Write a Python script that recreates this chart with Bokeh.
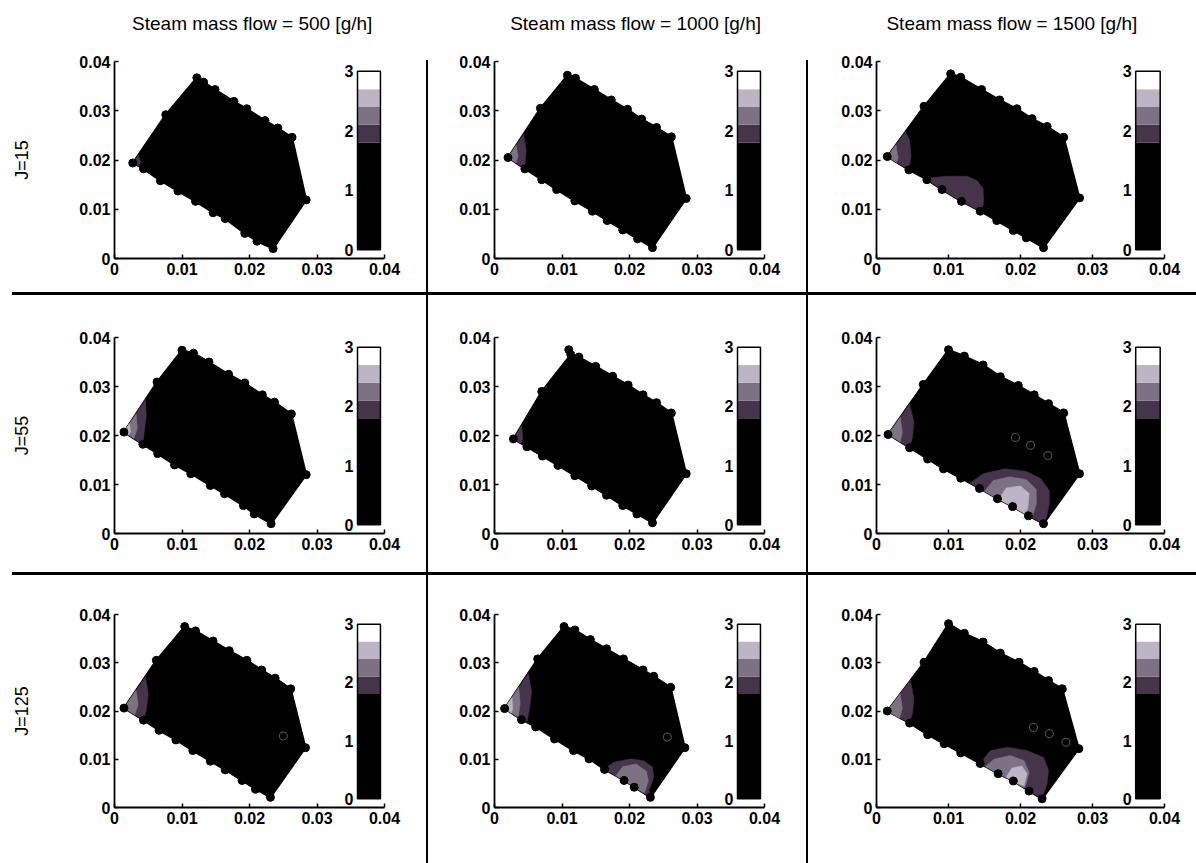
from bokeh.plotting import figure
from bokeh.models import Range1d, FixedTicker, NumeralTickFormatter, Spacer, ColumnDataSource
from bokeh.layouts import row, column
from bokeh.embed import file_html
from bokeh.resources import INLINE
from bokeh.core.properties import value

# ---------------- data ----------------
COL_TITLES = ["Steam mass flow = 500 [g/h]", "Steam mass flow = 1000 [g/h]", "Steam mass flow = 1500 [g/h]"]
ROW_LABELS = ["J=15", "J=55", "J=125"]
AXIS_TICKS = [0, 0.01, 0.02, 0.03, 0.04]
CB_LEVELS = [0, 1.8, 2.1, 2.4, 2.7, 3.0]
CB_COLORS = ["#000000", "#46344a", "#7d7284", "#bdb5c6", "#ffffff"]
CB_TICKS = [0, 1, 2, 3]

# boundary nodes (ordered around the domain): J=15
P11_X = [.0027, .0076, .0122, .0132, .0149, .0177, .0196, .0223, .0242, .0263, .0284, .0235, .0211, .0193, .0164, .0146, .0120, .0094, .0068, .0043]
P11_Y = [.0194, .0292, .0367, .0358, .0343, .0319, .0304, .0280, .0265, .0246, .0119, .0020, .0035, .0051, .0081, .0093, .0116, .0137, .0158, .0182]
P12_X = [.0020, .0068, .0108, .0120, .0148, .0173, .0197, .0218, .0240, .0262, .0284, .0234, .0212, .0190, .0167, .0145, .0119, .0092, .0070, .0045]
P12_Y = [.0205, .0305, .0372, .0366, .0343, .0322, .0303, .0283, .0266, .0247, .0122, .0022, .0040, .0058, .0077, .0096, .0117, .0140, .0160, .0182]
P13_X = [.0015, .0066, .0103, .0117, .0146, .0171, .0195, .0216, .0237, .0260, .0282, .0232, .0208, .0190, .0167, .0144, .0118, .0091, .0070, .0045]
P13_Y = [.0207, .0309, .0375, .0368, .0343, .0322, .0304, .0284, .0268, .0246, .0123, .0022, .0042, .0057, .0077, .0096, .0116, .0140, .0160, .0180]
# J=55
P21_X = [.0014, .0063, .0100, .0117, .0140, .0169, .0193, .0219, .0237, .0262, .0284, .0232, .0207, .0191, .0163, .0142, .0113, .0089, .0064, .0042]
P21_Y = [.0207, .0309, .0374, .0368, .0350, .0325, .0307, .0283, .0268, .0244, .0120, .0020, .0040, .0057, .0081, .0098, .0122, .0140, .0163, .0182]
P22_X = [.0028, .0070, .0113, .0125, .0150, .0175, .0198, .0220, .0240, .0262, .0284, .0234, .0211, .0190, .0166, .0144, .0119, .0094, .0071, .0048]
P22_Y = [.0193, .0290, .0365, .0360, .0341, .0321, .0303, .0283, .0267, .0246, .0122, .0022, .0040, .0057, .0078, .0097, .0118, .0139, .0158, .0177]
P23_X = [.0016, .0065, .0100, .0122, .0148, .0172, .0197, .0219, .0239, .0260, .0282, .0232, .0211, .0189, .0168, .0143, .0117, .0093, .0071, .0046]
P23_Y = [.0202, .0304, .0375, .0362, .0344, .0320, .0302, .0283, .0265, .0246, .0122, .0020, .0036, .0055, .0071, .0092, .0113, .0132, .0152, .0175]
# J=125
P31_X = [.0014, .0062, .0104, .0120, .0146, .0170, .0196, .0218, .0238, .0261, .0283, .0231, .0209, .0189, .0164, .0142, .0116, .0091, .0066, .0043]
P31_Y = [.0206, .0305, .0375, .0366, .0345, .0325, .0305, .0285, .0268, .0246, .0124, .0021, .0038, .0056, .0078, .0096, .0118, .0140, .0160, .0181]
P32_X = [.0015, .0064, .0103, .0119, .0142, .0166, .0191, .0220, .0236, .0261, .0282, .0231, .0207, .0192, .0163, .0140, .0117, .0089, .0061, .0040]
P32_Y = [.0205, .0308, .0375, .0368, .0348, .0329, .0308, .0285, .0272, .0249, .0124, .0021, .0042, .0056, .0079, .0101, .0118, .0142, .0167, .0182]
P33_X = [.0015, .0066, .0100, .0122, .0148, .0172, .0198, .0219, .0239, .0258, .0281, .0230, .0212, .0190, .0169, .0144, .0117, .0094, .0071, .0046]
P33_Y = [.0200, .0301, .0381, .0361, .0343, .0320, .0301, .0282, .0263, .0246, .0122, .0018, .0034, .0055, .0070, .0091, .0113, .0132, .0151, .0175]

# contour bands above the lowest level: (band index into CB_COLORS, outline)
P11_BANDS = [(1, [(.0027, .0194), (.0035, .0209), (.0039, .0197), (.0036, .0187)])]
P12_BANDS = [(1, [(.0020, .0205), (.0043, .0253), (.0047, .0222), (.0045, .0182)]),
             (2, [(.0020, .0205), (.0032, .0230), (.0035, .0208), (.0032, .0194)])]
P13_BANDS = [(1, [(.0015, .0207), (.0040, .0257), (.0046, .0240), (.0048, .0209), (.0045, .0180)]),
             (2, [(.0015, .0207), (.0027, .0231), (.0030, .0205), (.0028, .0195)]),
             (1, [(.0066, .0163), (.0098, .0167), (.0126, .0167), (.0140, .0158), (.0148, .0142), (.0149, .0118),
                  (.0147, .0099), (.0144, .0096), (.0118, .0116), (.0091, .0140), (.0070, .0160)])]
P21_BANDS = [(1, [(.0014, .0207), (.0046, .0274), (.0047, .0240), (.0044, .0205), (.0042, .0182)]),
             (2, [(.0014, .0207), (.0032, .0244), (.0034, .0215), (.0029, .0194)]),
             (3, [(.0014, .0207), (.0022, .0224), (.0024, .0208), (.0021, .0201)])]
P22_BANDS = [(1, [(.0028, .0193), (.0040, .0221), (.0042, .0195), (.0040, .0183)])]
P23_BANDS = [(1, [(.0016, .0202), (.0046, .0264), (.0052, .0228), (.0050, .0196), (.0046, .0175)]),
             (2, [(.0016, .0202), (.0033, .0237), (.0036, .0207), (.0033, .0187)]),
             (1, [(.0130, .0103), (.0148, .0122), (.0178, .0132), (.0208, .0127), (.0228, .0112), (.0240, .0088),
                  (.0240, .0060), (.0236, .0032), (.0232, .0020), (.0211, .0036), (.0189, .0055), (.0168, .0071), (.0143, .0092)]),
             (2, [(.0150, .0086), (.0162, .0108), (.0185, .0116), (.0208, .0110), (.0222, .0090), (.0222, .0060),
                  (.0216, .0032), (.0211, .0036), (.0189, .0055), (.0168, .0071)]),
             (3, [(.0170, .0070), (.0180, .0093), (.0200, .0097), (.0212, .0082), (.0210, .0050), (.0205, .0041), (.0189, .0055)])]
P31_BANDS = [(1, [(.0014, .0206), (.0046, .0271), (.0050, .0235), (.0047, .0200), (.0043, .0181)]),
             (2, [(.0014, .0206), (.0032, .0243), (.0035, .0213), (.0030, .0192)])]
P32_BANDS = [(1, [(.0015, .0205), (.0050, .0278), (.0055, .0240), (.0052, .0205), (.0048, .0176)]),
             (2, [(.0015, .0205), (.0036, .0249), (.0038, .0215), (.0035, .0187)]),
             (3, [(.0015, .0205), (.0026, .0228), (.0027, .0205), (.0025, .0196)]),
             (1, [(.0162, .0080), (.0177, .0094), (.0202, .0101), (.0221, .0097), (.0234, .0084), (.0236, .0063),
                  (.0229, .0035), (.0231, .0021), (.0207, .0042), (.0192, .0056)]),
             (2, [(.0180, .0066), (.0190, .0085), (.0210, .0090), (.0225, .0075), (.0228, .0055), (.0222, .0030),
                  (.0207, .0042), (.0192, .0056)])]
P33_BANDS = [(1, [(.0015, .0200), (.0047, .0264), (.0052, .0225), (.0050, .0195), (.0046, .0175)]),
             (2, [(.0015, .0200), (.0033, .0236), (.0036, .0205), (.0032, .0185)]),
             (1, [(.0144, .0091), (.0158, .0118), (.0182, .0125), (.0209, .0118), (.0232, .0104), (.0239, .0077),
                  (.0237, .0049), (.0232, .0028), (.0230, .0018), (.0212, .0034), (.0190, .0055), (.0169, .0070)]),
             (2, [(.0151, .0085), (.0163, .0100), (.0186, .0108), (.0205, .0097), (.0212, .0073), (.0208, .0049),
                  (.0205, .0040), (.0190, .0055), (.0169, .0070)]),
             (3, [(.0180, .0063), (.0188, .0082), (.0202, .0086), (.0209, .0070), (.0205, .0045), (.0196, .0049)])]

# interior nodes drawn as hollow rings, and stray nodes
P23_RINGS = [(.0193, .0196), (.0214, .0180), (.0238, .0159)]
P31_RINGS = [(.0250, .0148)]
P32_RINGS = [(.0256, .0146)]
P33_RINGS = [(.0218, .0166), (.0240, .0153), (.0263, .0135)]
P22_EXTRA = [(.0110, .0375)]

PANEL_X = [[P11_X, P12_X, P13_X], [P21_X, P22_X, P23_X], [P31_X, P32_X, P33_X]]
PANEL_Y = [[P11_Y, P12_Y, P13_Y], [P21_Y, P22_Y, P23_Y], [P31_Y, P32_Y, P33_Y]]
PANEL_BANDS = [[P11_BANDS, P12_BANDS, P13_BANDS], [P21_BANDS, P22_BANDS, P23_BANDS], [P31_BANDS, P32_BANDS, P33_BANDS]]
PANEL_RINGS = [[[], [], []], [[], [], P23_RINGS], [P31_RINGS, P32_RINGS, P33_RINGS]]
PANEL_EXTRA = [[[], [], []], [[], P22_EXTRA, []], [[], [], []]]

# ---------------- layout geometry ----------------
HEADER_H = 45
COL_W = [426, 378, 388]
COL_LEFT = [114, 66, 68]
FRAME_W = [270, 270, 288]
ROW_H = [292 - HEADER_H, 277, 288]
ROW_TOP = [61 - HEADER_H, 42, 39]
FRAME_H = [197, 196, 193]
TITLE_X = [0.0204, 0.0209, 0.0188]   # title centre, in each column's x units
TITLE_CY = 22                        # title centre, pixels above the header's bottom
CB_X0, CB_X1 = 0.0360, 0.0394
CB_Y0, CB_Y1 = 0.0018, 0.0380
FONT = "Liberation Sans"


def make_header(c):
    h = figure(width=COL_W[c], height=HEADER_H, output_backend="svg", toolbar_location=None,
               x_range=Range1d(0, 0.04), y_range=Range1d(0, HEADER_H),
               x_axis_location=None, y_axis_location=None,
               min_border_left=COL_LEFT[c], min_border_right=COL_W[c] - COL_LEFT[c] - FRAME_W[c],
               min_border_top=0, min_border_bottom=0,
               outline_line_color=None, background_fill_color="white", border_fill_color="white")
    h.xgrid.visible = False
    h.ygrid.visible = False
    h.text(x=[TITLE_X[c]], y=[TITLE_CY], text=[COL_TITLES[c]], text_align="center", text_baseline="middle",
           text_font=value(FONT), text_font_size="19px", text_color="black")
    return h


def make_panel(r, c):
    p = figure(width=COL_W[c], height=ROW_H[r], output_backend="svg", toolbar_location=None,
               x_range=Range1d(0, 0.04), y_range=Range1d(0, 0.04),
               min_border_left=COL_LEFT[c], min_border_right=COL_W[c] - COL_LEFT[c] - FRAME_W[c],
               min_border_top=ROW_TOP[r], min_border_bottom=ROW_H[r] - ROW_TOP[r] - FRAME_H[r],
               outline_line_color=None, background_fill_color="white", border_fill_color="white")
    p.xgrid.visible = False
    p.ygrid.visible = False
    for ax in (p.xaxis[0], p.yaxis[0]):
        ax.ticker = FixedTicker(ticks=AXIS_TICKS)
        ax.formatter = NumeralTickFormatter(format="0.[00]")
        ax.minor_tick_line_color = None
        ax.major_tick_in = 4
        ax.major_tick_out = 0
        ax.axis_line_width = 1.8
        ax.axis_line_color = "black"
        ax.major_tick_line_color = "black"
        ax.major_tick_line_width = 1.5
        ax.major_label_text_font = FONT
        ax.major_label_text_font_style = "bold"
        ax.major_label_text_font_size = "16px"
        ax.major_label_text_color = "black"
        ax.major_label_standoff = 4
    if c == 0:
        p.yaxis.axis_label = ROW_LABELS[r]
        p.yaxis.axis_label_text_font = FONT
        p.yaxis.axis_label_text_font_style = "normal"
        p.yaxis.axis_label_text_font_size = "18px"
        p.yaxis.axis_label_text_color = "black"
        p.yaxis.axis_label_standoff = 44

    # domain (lowest band) with boundary nodes
    bx, by = PANEL_X[r][c], PANEL_Y[r][c]
    p.patch(bx, by, fill_color=CB_COLORS[0], line_color="black", line_width=2)
    bands = PANEL_BANDS[r][c]
    if bands:
        src = ColumnDataSource(dict(xs=[[pt[0] for pt in b[1]] for b in bands],
                                    ys=[[pt[1] for pt in b[1]] for b in bands],
                                    color=[CB_COLORS[b[0]] for b in bands]))
        p.patches("xs", "ys", source=src, fill_color="color", line_color="color", line_width=0.5)
    p.scatter(bx, by, size=8, color="black")
    extra = PANEL_EXTRA[r][c]
    if extra:
        p.scatter([e[0] for e in extra], [e[1] for e in extra], size=8, color="black")
    rings = PANEL_RINGS[r][c]
    if rings:
        p.scatter([e[0] for e in rings], [e[1] for e in rings], size=8, fill_color=None,
                  line_color="#4a4a4a", line_width=1.2)

    # colorbar on its own value range
    span = CB_Y1 - CB_Y0
    top = CB_LEVELS[-1]
    p.extra_y_ranges = {"cb": Range1d(-CB_Y0 * top / span, (0.04 - CB_Y0) * top / span)}
    p.quad(left=CB_X0, right=CB_X1, bottom=CB_LEVELS[:-1], top=CB_LEVELS[1:], fill_color=CB_COLORS,
           line_color=None, y_range_name="cb")
    p.quad(left=CB_X0, right=CB_X1, bottom=CB_LEVELS[0], top=CB_LEVELS[-1], fill_color=None,
           line_color="black", line_width=1.5, y_range_name="cb")
    p.text(x=[CB_X0] * len(CB_TICKS), y=CB_TICKS, text=[str(t) for t in CB_TICKS], y_range_name="cb",
           x_offset=-4, text_align="right", text_baseline="middle", text_font=value(FONT),
           text_font_style="bold", text_font_size="16px", text_color="black")
    return p


def black_bar(w, h):
    return Spacer(width=w, height=h, margin=0, styles={"background-color": "black"})


def white_gap(w, h):
    return Spacer(width=w, height=h, margin=0)


cols = []
for c in range(3):
    figs = [make_panel(r, c) for r in range(3)]
    if c == 0:
        hsep = [row(white_gap(12, 3), black_bar(COL_W[0] - 12, 3), spacing=0) for _ in range(2)]
    else:
        hsep = [black_bar(COL_W[c], 3) for _ in range(2)]
    cols.append(column(make_header(c), figs[0], hsep[0], figs[1], hsep[1], figs[2], spacing=0))


def vsep():
    return column(white_gap(2, 60), black_bar(2, 863 - 60), spacing=0)


layout = row(cols[0], vsep(), cols[1], vsep(), cols[2], spacing=0)

open("out.html", "w").write(file_html(layout, INLINE))
